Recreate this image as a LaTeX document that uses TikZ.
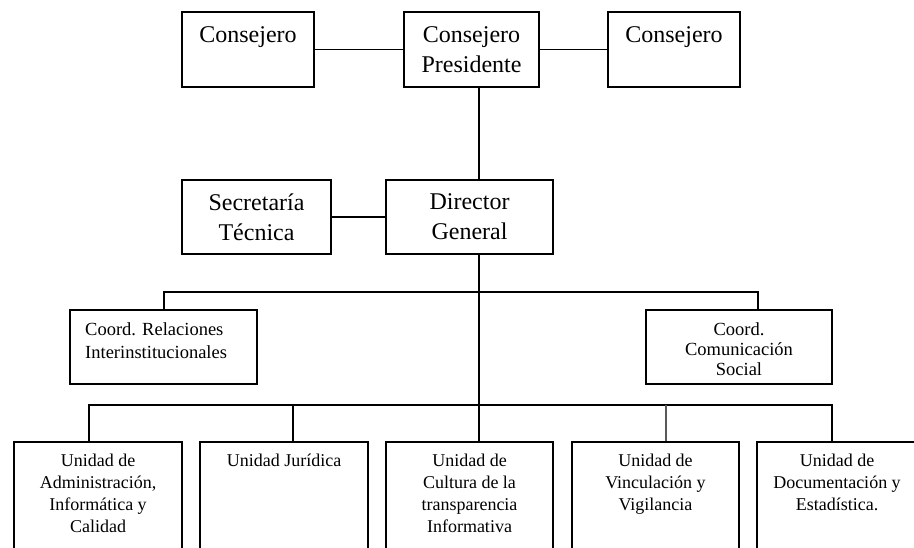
\documentclass[tikz,border=0pt]{standalone}
\usepackage{fontspec}
\setmainfont{Liberation Serif}
\begin{document}
\begin{tikzpicture}[x=1pt,y=-1pt,
  box/.style={draw, line width=1.4pt, inner sep=0pt, fill=none},
  conn/.style={draw, line width=1.3pt},
  tbig/.style={inner sep=0pt, align=center, anchor=north, font=\fontsize{24}{29.5}\selectfont},
  tmid/.style={inner sep=0pt, align=center, anchor=north, font=\fontsize{18.5}{20}\selectfont},
  tsml/.style={inner sep=0pt, align=center, anchor=north, font=\fontsize{18}{22}\selectfont}]
\useasboundingbox[fill=white] (0,0) rectangle (914,547);
% boxes
\node[box, minimum width=132pt, minimum height=75pt] (c1) at (248,49.5) {};
\node[box, minimum width=135pt, minimum height=75pt] (cp) at (471.5,49.5) {};
\node[box, minimum width=132pt, minimum height=75pt] (c2) at (674,49.5) {};
\node[box, minimum width=149pt, minimum height=74pt] (st) at (256.5,217) {};
\node[box, minimum width=167pt, minimum height=74pt] (dg) at (469.5,217) {};
\node[box, minimum width=187pt, minimum height=74pt] (cr) at (163.5,347) {};
\node[box, minimum width=186pt, minimum height=74pt] (cc) at (739,347) {};
\node[box, minimum width=168pt, minimum height=118pt] (u1) at (98,501) {};
\node[box, minimum width=168pt, minimum height=118pt] (u2) at (284,501) {};
\node[box, minimum width=167pt, minimum height=118pt] (u3) at (469.5,501) {};
\node[box, minimum width=167pt, minimum height=118pt] (u4) at (655.5,501) {};
\node[box, minimum width=160pt, minimum height=118pt] (u5) at (837,501) {};
% texts
\node[tbig] (t1) at (248,26.7) {Consejero};
\node[tbig] (t2) at (471.5,26.7) {Consejero\\Presidente};
\node[tbig] (t3) at (674,26.7) {Consejero};
\node[tbig] (t4) at (256.5,193.7) {Secretaría\\Técnica};
\node[tbig] (t5) at (469.5,193.7) {Director\\General};
\node[tmid, anchor=north west, align=left] (t6) at (85,322.6) {Coord. Relaciones\\[3pt]Interinstitucionales};
\node[tmid] (t7) at (739,322.4) {Coord.\\Comunicación\\Social};
\node[tsml] (t8) at (98,453.8) {Unidad de\\Administración,\\Informática y\\Calidad};
\node[tsml] (t9) at (284,453.8) {Unidad Jurídica};
\node[tsml] (t10) at (469.5,453.8) {Unidad de\\Cultura de la\\transparencia\\Informativa};
\node[tsml] (t11) at (655.5,453.8) {Unidad de\\Vinculación y\\Vigilancia};
\node[tsml] (t12) at (837,453.8) {Unidad de\\Documentación y\\Estadística.};
% connectors
\coordinate (vx) at (479,0);
\draw[conn] (c1.east) -- (cp.west);
\draw[conn] (cp.east) -- (c2.west);
\draw[conn] (cp.south -| vx) -- (dg.north -| vx);
\draw[conn] (st.east) -- (dg.west);
\draw[conn] (dg.south -| vx) -- (u3.north -| vx);
\coordinate (ka) at (164,292);
\coordinate (kb) at (758,292);
\draw[conn] (cr.north -| ka) -- (ka) -- (kb) -- (cc.north -| kb);
\coordinate (la) at (89,405);
\coordinate (lb) at (293,405);
\coordinate (ld) at (666,405);
\coordinate (le) at (832,405);
\draw[conn] (u1.north -| la) -- (la) -- (le) -- (u5.north -| le);
\draw[conn] (lb) -- (u2.north -| lb);
\draw[conn, draw=black!65] (ld) -- (u4.north -| ld);
\end{tikzpicture}
\end{document}
